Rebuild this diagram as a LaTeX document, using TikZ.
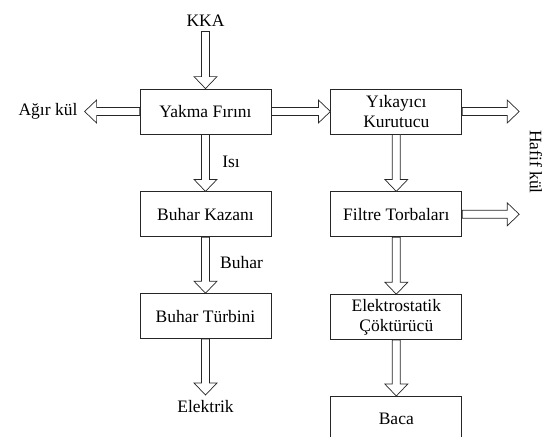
\documentclass[tikz,border=0pt]{standalone}
\usepackage{fontspec}
\setmainfont{Liberation Serif}
\newfontfamily\timesfont{Liberation Serif}
\usetikzlibrary{positioning, calc}

\tikzset{
    unitbox/.style={
        rectangle,
        draw=black!85,
        line width=0.8pt,
        minimum width=131pt,
        minimum height=45pt,
        align=center,
        inner sep=2pt
    },
    flow/.style={
        draw=black!85,
        line width=0.7pt,
        fill=white,
        line join=miter
    },
    tag/.style={inner sep=5pt}
}

% hollow block arrow between two points
\newcommand{\flowarrow}[2]{%
    \coordinate (fa-s) at (#1);
    \coordinate (fa-e) at (#2);
    \coordinate (fa-b) at ($(fa-e)!12pt!(fa-s)$);
    \draw[flow] ($(fa-s)!4pt!90:(fa-e)$) -- ($(fa-b)!4pt!-90:(fa-s)$)
        -- ($(fa-b)!11.5pt!-90:(fa-s)$) -- (fa-e)
        -- ($(fa-b)!11.5pt!90:(fa-s)$) -- ($(fa-b)!4pt!90:(fa-s)$)
        -- ($(fa-s)!4pt!-90:(fa-e)$) -- cycle;
}

\begin{document}
\begin{tikzpicture}[x=1pt, y=-1pt, node distance=57pt, font=\timesfont\fontsize{17.5}{20}\selectfont]

\useasboundingbox (0,0) rectangle (545,436);
\clip (0,0) rectangle (545,436);

% Left column: combustion and energy
\node[unitbox] (yakma) at (205.5, 111.5) {Yakma Fırını};
\node[unitbox, below=of yakma] (kazan) {Buhar Kazanı};
\node[unitbox, below=56pt of kazan] (turbin) {Buhar Türbini};

% Right column: gas cleaning
\node[unitbox, right=59pt of yakma] (yikayici) {Yıkayıcı\\Kurutucu};
\node[unitbox, below=of yikayici] (filtre) {Filtre Torbaları};
\node[unitbox, below=of filtre] (elektro) {Elektrostatik\\Çöktürücü};
\node[unitbox, below=56pt of elektro] (baca) {Baca};

% Free arrow ends
\coordinate[above=57pt of yakma.north] (kka-in);
\coordinate[left=55pt of yakma.west] (agir-out);
\coordinate[below=56pt of turbin.south] (elektrik-out);
\coordinate[right=57pt of yikayici.east] (hafif-out1);
\coordinate[right=57pt of filtre.east] (hafif-out2);

% Outer labels
\node[tag, above=0pt of kka-in] (kka) {KKA};
\node[tag, left=2pt of agir-out] (agir) {Ağır kül};
\node[tag, below=0pt of elektrik-out] (elektrik) {Elektrik};
\node[tag, rotate=-90] (hafif) at (536, 162) {Hafif kül};

% Arrows
\flowarrow{kka-in}{yakma.north}
\flowarrow{yakma.west}{agir-out}
\flowarrow{yakma.east}{yikayici.west}
\flowarrow{yakma.south}{kazan.north}
\flowarrow{kazan.south}{turbin.north}
\flowarrow{turbin.south}{elektrik-out}
\flowarrow{yikayici.east}{hafif-out1}
\flowarrow{yikayici.south}{filtre.north}
\flowarrow{filtre.east}{hafif-out2}
\flowarrow{filtre.south}{elektro.north}
\flowarrow{elektro.south}{baca.north}

% Arrow labels
\node[tag] (isi) at (231, 162) {Isı};
\node[tag] (buhar) at (241.5, 263) {Buhar};

\end{tikzpicture}
\end{document}
